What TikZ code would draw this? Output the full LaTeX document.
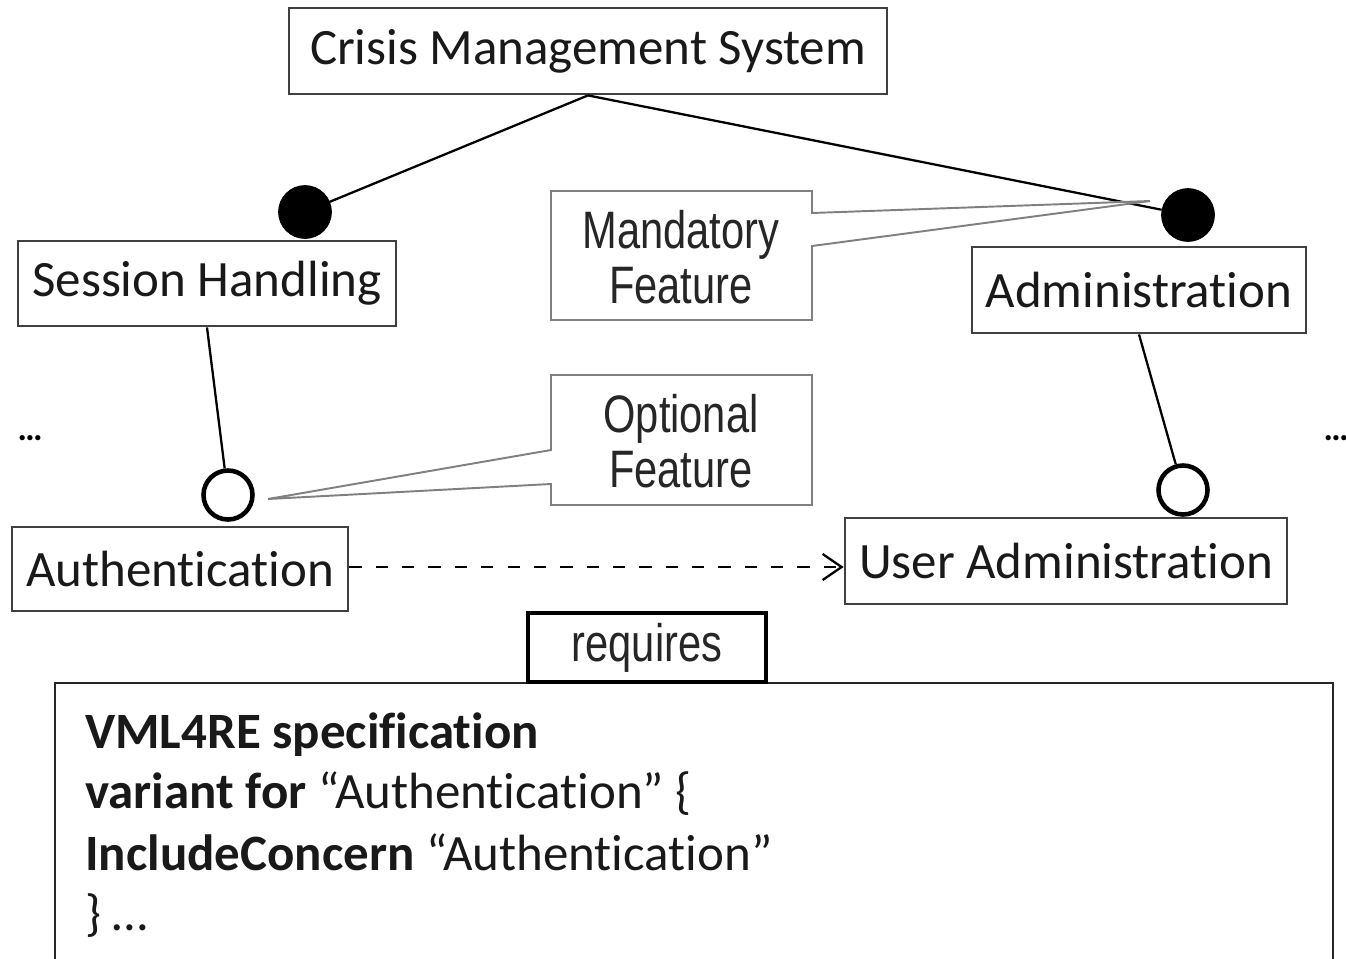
\documentclass[tikz,border=0pt]{standalone}
\usepackage{fontspec}
\setmainfont{Carlito}[Ligatures=NoCommon]
\newfontfamily\narrowfont{Liberation Sans}[FakeStretch=0.79]
\usetikzlibrary{arrows.meta}
\begin{document}
\begin{tikzpicture}[x=0.02cm,y=-0.02cm,
  fbox/.style={draw=black!75, line width=1.6pt, fill=white, inner sep=0pt,
    text=black!90, font=\fontsize{29}{34}\selectfont},
  callout/.style={draw=black!50, line width=1.1pt, fill=white},
  callouttext/.style={align=center, inner sep=0pt, text=black!85,
    font=\narrowfont\fontsize{30}{31}\selectfont},
  link/.style={draw=black, line width=1.3pt},
  mandot/.style={circle, fill=black, draw=black, inner sep=0pt, minimum size=1.06cm},
  optdot/.style={circle, fill=white, draw=black, line width=2.6pt, inner sep=0pt, minimum size=0.98cm},
  spec/.style={anchor=base west, inner sep=0pt, text=black!90, font=\fontsize{29}{34}\selectfont},
  dots/.style={inner sep=0pt, font=\bfseries\fontsize{20}{22}\selectfont}]
\useasboundingbox (0,0) rectangle (1346,958);

% feature boxes
\node[fbox, minimum width=11.96cm, minimum height=1.72cm] (cms) at (588,51) {Crisis Management System};
\node[fbox, minimum width=7.56cm, minimum height=1.70cm] (sh) at (207,283.5) {Session Handling};
\node[fbox, minimum width=6.68cm, minimum height=1.72cm] (adm) at (1139,290) {Administration};
\node[fbox, minimum width=6.72cm, minimum height=1.68cm] (auth) at (180,569) {Authentication};
\node[fbox, minimum width=8.84cm, minimum height=1.72cm] (ua) at (1066,561) {User Administration};

% mandatory and optional markers
\node[mandot] (md1) at (305,212) {};
\node[mandot] (md2) at (1188,215) {};
\node[optdot] (od1) at (228,495) {};
\node[optdot] (od2) at (1183,490) {};

% tree edges
\draw[link] (cms.south) -- (md1);
\draw[link] (cms.south) -- (md2);
\draw[link] (sh.south) -- (od1);
\draw[link] (adm.south) -- (od2);

% requires dependency
\draw[black, line width=1.2pt, dash pattern=on 7pt off 8pt,
  -{Straight Barb[length=0.38cm,width=0.52cm,line width=1.3pt]}]
  (auth.east |- 0,567) -- (ua.west |- 0,567);

% callouts
\coordinate (mtip) at (1150,201);
\coordinate (otip) at (268,499);
\draw[callout] (551,191) -- (812,191) -- (812,213) -- (mtip) -- (812,246)
  -- (812,320) -- (551,320) -- cycle;
\node[callouttext] (mlab) at (681,257) {Mandatory\\Feature};
\draw[callout] (551,375) -- (812,375) -- (812,505) -- (551,505) -- (551,484)
  -- (otip) -- (551,450) -- cycle;
\node[callouttext] (olab) at (681,441) {Optional\\Feature};

% specification panel
\draw[black!85, line width=1.3pt] (55,972) -- (55,683) -- (1333,683) -- (1333,972);
\node[draw=black, line width=2.8pt, fill=white, minimum width=4.76cm, minimum height=1.38cm,
  inner sep=0pt, font=\narrowfont\fontsize{30}{32}\selectfont, text=black!85] (req) at (647,647.5) {requires};
\node[spec] (s1) at (85,748) {\textbf{VML4RE specification}};
\node[spec] (s2) at (85,808) {\textbf{variant for} “Authentication” \{};
\node[spec] (s3) at (85,870) {\textbf{IncludeConcern} “Authentication”};
\node[spec] (s4) at (85,930) {\} …};

% elided siblings
\node[dots] (ldots) at (30,438) {…};
\node[dots] (rdots) at (1336,438) {…};
\end{tikzpicture}
\end{document}
